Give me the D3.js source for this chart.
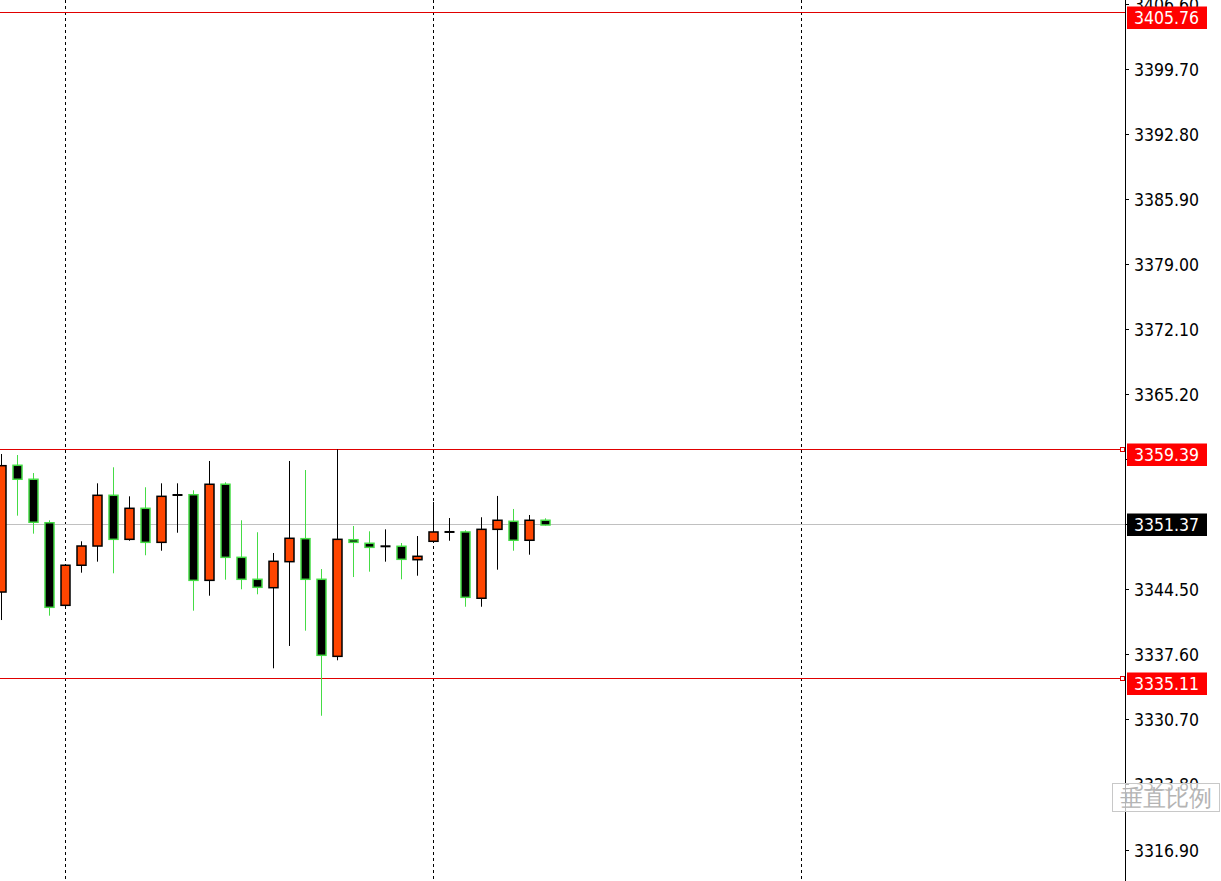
<!DOCTYPE html>
<html><head><meta charset="utf-8">
<script src="https://cdn.jsdelivr.net/npm/d3@7"></script>
<style>
html,body{margin:0;padding:0;background:#fff;overflow:hidden;}
svg{display:block;}
text{font-family:"DejaVu Sans Condensed","DejaVu Sans",sans-serif;font-stretch:condensed;}
</style></head>
<body>
<svg id="c" width="1221" height="881"></svg>
<script>
// ---- data ----
const opens  = [3344.26,3357.70,3356.22,3351.61,3342.85,3347.10,3349.14,3354.52,3349.85,3353.14,3349.53,3354.55,3354.58,3345.50,3355.69,3347.94,3345.61,3344.72,3347.48,3349.92,3345.61,3337.44,3349.81,3349.43,3349.11,3349.11,3347.69,3349.64,3350.63,3350.63,3343.60,3350.91,3351.76,3349.75,3351.87];
const highs  = [3358.90,3358.79,3356.88,3351.87,3347.23,3349.64,3355.79,3357.49,3354.41,3355.37,3355.79,3355.79,3355.05,3358.16,3355.90,3351.87,3350.60,3348.40,3358.16,3357.20,3346.70,3359.39,3351.26,3350.70,3350.91,3349.46,3350.20,3353.81,3352.11,3350.81,3352.19,3354.45,3353.07,3352.43,3352.08];
const lows   = [3341.29,3352.36,3350.45,3341.75,3342.46,3346.31,3347.48,3346.25,3349.70,3348.16,3348.64,3350.55,3342.28,3343.87,3345.57,3344.55,3344.02,3336.17,3338.54,3340.16,3331.14,3337.02,3345.85,3346.42,3347.48,3345.61,3345.99,3349.46,3349.70,3342.70,3342.70,3346.63,3348.64,3348.22,3351.30];
const closes = [3357.66,3356.22,3351.66,3342.64,3347.10,3349.14,3354.52,3349.85,3353.14,3349.53,3354.41,3354.55,3345.50,3355.69,3347.94,3345.61,3344.76,3347.52,3349.96,3345.61,3337.55,3349.85,3349.53,3349.00,3349.11,3347.73,3348.05,3350.63,3350.63,3343.70,3350.91,3351.87,3349.75,3351.87,3351.37];
const tickLabels = ["3406.60","3399.70","3392.80","3385.90","3379.00","3372.10","3365.20","3358.30","3351.40","3344.50","3337.60","3330.70","3323.80","3316.90"];
const levelLines = [3405.76, 3359.39, 3335.11];
const currentPrice = 3351.37;
const gridIndices = [4, 27, 50];
const scaleLabel = "垂直比例";

// ---- layout ----
const W = 1221, H = 881, axisX = 1125;
const svg = d3.select("#c");
const y = d3.scaleLinear().domain([3316.90, 3399.70]).range([850, 69.3]);
const x = d3.scaleLinear().domain([0, 34]).range([1.5, 545.5]);
const crisp = v => Math.floor(v) + 0.5;

const GREEN = "#45dc45", ORANGE = "#ff4500", BLACK = "#000", LRED = "#e00000";
const FS = 17.5;

// grid (dashed verticals)
svg.append("g").selectAll("line").data(gridIndices).join("line")
  .attr("x1", d => crisp(x(d))).attr("x2", d => crisp(x(d)))
  .attr("y1", 0).attr("y2", H)
  .attr("stroke", "#000").attr("stroke-width", 1).attr("stroke-dasharray", "3,3");

// current price line
svg.append("line").attr("x1", 0).attr("x2", axisX + 2)
  .attr("y1", crisp(y(currentPrice))).attr("y2", crisp(y(currentPrice)))
  .attr("stroke", "#c0c0c0").attr("stroke-width", 1);

// level lines
svg.append("g").selectAll("line").data(levelLines).join("line")
  .attr("x1", 0).attr("x2", axisX)
  .attr("y1", d => crisp(y(d))).attr("y2", d => crisp(y(d)))
  .attr("stroke", LRED).attr("stroke-width", 1);
svg.append("g").selectAll("rect").data(levelLines.slice(1)).join("rect")
  .attr("x", axisX - 4.5).attr("y", d => crisp(y(d)) - 2)
  .attr("width", 4).attr("height", 4)
  .attr("fill", "#fff").attr("stroke", LRED).attr("stroke-width", 1);

// candles
const candles = opens.map((o, i) => ({i, o, h: highs[i], l: lows[i], c: closes[i]}));
const g = svg.append("g");
candles.forEach(d => {
  const cx = crisp(x(d.i));
  const bull = d.c >= d.o;
  const col = bull ? BLACK : GREEN;
  g.append("line").attr("x1", cx).attr("x2", cx)
    .attr("y1", y(d.h)).attr("y2", y(d.l))
    .attr("stroke", col).attr("stroke-width", 1);
  if (d.c === d.o) {
    g.append("line").attr("x1", cx - 5).attr("x2", cx + 5)
      .attr("y1", y(d.o)).attr("y2", y(d.o))
      .attr("stroke", BLACK).attr("stroke-width", 2);
  } else {
    const top = y(Math.max(d.o, d.c)), bot = y(Math.min(d.o, d.c));
    g.append("rect").attr("x", cx - 4.5).attr("width", 9)
      .attr("y", top).attr("height", Math.max(bot - top, 1))
      .attr("fill", bull ? ORANGE : BLACK)
      .attr("stroke", bull ? BLACK : GREEN).attr("stroke-width", 1.5);
  }
});

// axis
svg.append("line").attr("x1", axisX + 0.5).attr("x2", axisX + 0.5)
  .attr("y1", 0).attr("y2", H).attr("stroke", "#000").attr("stroke-width", 1);
const axG = svg.append("g");
tickLabels.forEach(t => {
  const ty = crisp(y(+t));
  axG.append("line").attr("x1", axisX).attr("x2", axisX + 4)
    .attr("y1", ty).attr("y2", ty).attr("stroke", "#000");
  axG.append("text").attr("x", 1134).attr("y", ty)
    .attr("dominant-baseline", "central")
    .attr("font-size", FS).attr("fill", "#000").text(t);
});

// level labels (red)
levelLines.forEach(v => {
  const ly = crisp(y(v));
  svg.append("rect").attr("x", 1127).attr("y", ly - 6).attr("width", 80).attr("height", 22.5)
    .attr("fill", "#ff0000");
  svg.append("text").attr("x", 1134).attr("y", ly + 5.5)
    .attr("dominant-baseline", "central").attr("font-size", FS).attr("fill", "#fff")
    .text(v.toFixed(2));
});
// current price label
{
  const cy = crisp(y(currentPrice));
  svg.append("rect").attr("x", 1127).attr("y", cy - 11).attr("width", 80).attr("height", 22.5)
    .attr("fill", "#000");
  svg.append("text").attr("x", 1134).attr("y", cy + 0.5)
    .attr("dominant-baseline", "central").attr("font-size", FS).attr("fill", "#fff")
    .text(currentPrice.toFixed(2));
}

// "垂直比例" overlay
svg.append("rect").attr("x", 1112.5).attr("y", 783.5).attr("width", 107).attr("height", 28)
  .attr("fill", "rgba(255,255,255,0.72)").attr("stroke", "#c8c8c8").attr("stroke-width", 1);
svg.append("text").attr("x", 1166).attr("y", 798)
  .attr("text-anchor", "middle").attr("dominant-baseline", "central")
  .attr("font-family", "'Noto Sans CJK SC', sans-serif")
  .attr("font-size", 23).attr("fill", "#b4b4b4").text(scaleLabel);
</script>
</body></html>
